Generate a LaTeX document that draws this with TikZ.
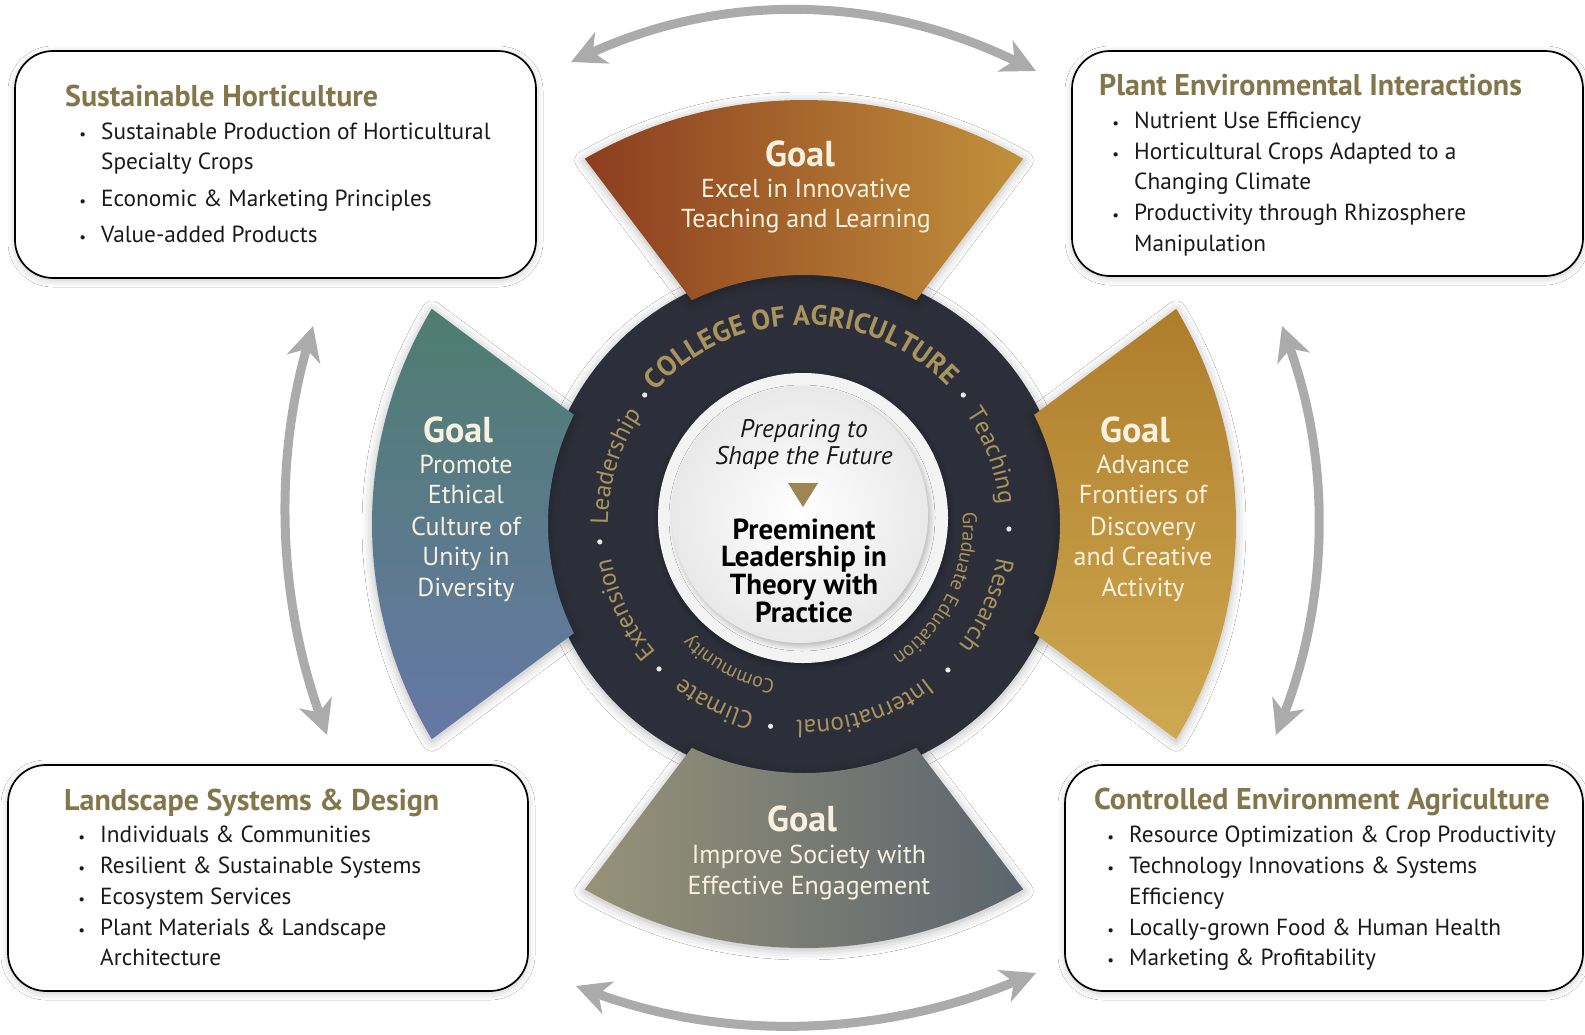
\documentclass[tikz,border=0pt]{standalone}
\usepackage{fontspec}
\setmainfont{PT Sans}
\usetikzlibrary{arrows.meta,decorations.text,shadows.blur}
\definecolor{ringdark}{HTML}{2C2E39}
\definecolor{ringtan}{HTML}{AA945E}
\definecolor{titlecol}{HTML}{84754B}
\definecolor{cream}{HTML}{F8F1E0}
\definecolor{arrowgray}{HTML}{ABABAB}
\definecolor{topL}{HTML}{8C3D1E}
\definecolor{topR}{HTML}{C2913C}
\definecolor{leftT}{HTML}{4E7D6F}
\definecolor{leftB}{HTML}{6678A6}
\definecolor{rightT}{HTML}{AE7D2B}
\definecolor{rightB}{HTML}{CFA952}
\definecolor{botL}{HTML}{979379}
\definecolor{botR}{HTML}{5B646E}
\definecolor{trigold}{HTML}{9D8652}
\definecolor{bodytext}{HTML}{1A1A1A}
\definecolor{ctrout}{HTML}{F3F3F3}
\definecolor{ctrin}{HTML}{E9E9E9}
\newcommand\fs[1]{\fontsize{#1}{#1}\selectfont}
\newcommand\bul{\llap{{\fs{15}\textbullet}\hspace{15pt}}}
\newcommand\ringfont{\fs{25}}
\newcommand\ringsmall{\fs{20}}
\newcommand\ringbold{\bfseries\fs{28}}
\begin{document}
\begin{tikzpicture}[x=1pt,y=-1pt,
  frame/.style={draw=black, line width=1.7pt, rounded corners=38pt, fill=white,
    inner sep=0pt, outer sep=0pt, anchor=north west,
    blur shadow={shadow blur radius=7pt, shadow xshift=0pt, shadow yshift=-2pt, shadow opacity=22}},
  boxtitle/.style={font=\bfseries\fs{30}, text=titlecol, inner sep=0pt, anchor=base west},
  itemtext/.style={font=\fs{23.3}, text=bodytext, inner sep=0pt, anchor=base west},
  goalhead/.style={font=\bfseries\fs{36}, text=cream, inner sep=0pt, anchor=base},
  goaltext/.style={font=\fs{26}, text=cream, inner sep=0pt, anchor=base},
  centeri/.style={font=\itshape\fs{25.5}, text=bodytext, inner sep=0pt, anchor=base},
  centerb/.style={font=\bfseries\fs{29}, text=black, inner sep=0pt, anchor=base},
  softshadow/.style={blur shadow={shadow blur radius=10pt, shadow xshift=0pt, shadow yshift=-2pt, shadow opacity=30}},
  ringword/.style={decorate, decoration={text along path, text align=center, text color=ringtan, text={|\ringfont|#1}}},
  ringwordsmall/.style={decorate, decoration={text along path, text align=center, text color=ringtan, text={|\ringsmall|#1}}},
  ringtitle/.style={decorate, decoration={text along path, text align=center, text color=ringtan, text={|\ringbold|#1}}},
  ringdot/.style={fill=white!85!gray},
  garrow/.style={draw=arrowgray, line width=9pt, {Stealth[length=34pt,width=34pt,inset=10pt]}-{Stealth[length=34pt,width=34pt,inset=10pt]}},
]
\fill[white] (0,0) rectangle (1585,1034);
\useasboundingbox (0,0) rectangle (1585,1034);

% ---------- arrows ----------
\coordinate (ta1) at (571,62);   \coordinate (ta2) at (1036,71);
\coordinate (ba1) at (576,986);  \coordinate (ba2) at (1036,973);
\coordinate (la1) at (313,326);  \coordinate (la2) at (327,735);
\coordinate (ra1) at (1282,326); \coordinate (ra2) at (1276,735);
\draw[garrow] (ta1) .. controls (725,-8) and (880,-5) .. (ta2);
\draw[garrow] (ba1) .. controls (727,1041) and (880,1037) .. (ba2);
\draw[garrow] (la1) .. controls (274,462) and (278,598) .. (la2);
\draw[garrow] (ra1) .. controls (1331,462) and (1329,598) .. (ra2);

% ---------- boxes ----------
\node[frame, minimum width=521pt, minimum height=227pt] (box1) at (15,51) {};
\node[frame, minimum width=511pt, minimum height=225pt] (box2) at (1072,51) {};
\node[frame, minimum width=520pt, minimum height=226pt] (box3) at (8,765) {};
\node[frame, minimum width=518pt, minimum height=226pt] (box4) at (1065,765) {};

\node[boxtitle] (b1t) at (65,106) {Sustainable Horticulture};
\node[itemtext] (b1a) at (101,139) {\bul Sustainable Production of Horticultural};
\node[itemtext] (b1b) at (101,169) {Specialty Crops};
\node[itemtext] (b1c) at (101,206) {\bul Economic \& Marketing Principles};
\node[itemtext] (b1d) at (101,242) {\bul Value-added Products};

\node[boxtitle] (b2t) at (1099,95) {Plant Environmental Interactions};
\node[itemtext] (b2a) at (1134,128) {\bul Nutrient Use Efficiency};
\node[itemtext] (b2b) at (1134,159) {\bul Horticultural Crops Adapted to a};
\node[itemtext] (b2c) at (1134,189) {Changing Climate};
\node[itemtext] (b2d) at (1134,220) {\bul Productivity through Rhizosphere};
\node[itemtext] (b2e) at (1134,251) {Manipulation};

\node[boxtitle] (b3t) at (64,810) {Landscape Systems \& Design};
\node[itemtext] (b3a) at (100,842) {\bul Individuals \& Communities};
\node[itemtext] (b3b) at (100,873) {\bul Resilient \& Sustainable Systems};
\node[itemtext] (b3c) at (100,904) {\bul Ecosystem Services};
\node[itemtext] (b3d) at (100,935) {\bul Plant Materials \& Landscape};
\node[itemtext] (b3e) at (100,965) {Architecture};

\node[boxtitle] (b4t) at (1094,809) {Controlled Environment Agriculture};
\node[itemtext] (b4a) at (1129,842) {\bul Resource Optimization \& Crop Productivity};
\node[itemtext] (b4b) at (1129,873) {\bul Technology Innovations \& Systems};
\node[itemtext] (b4c) at (1129,904) {Efficiency};
\node[itemtext] (b4d) at (1129,935) {\bul Locally-grown Food \& Human Health};
\node[itemtext] (b4e) at (1129,965) {\bul Marketing \& Profitability};

% ---------- ring and wedges ----------
\begin{scope}[shift={(804,524)}]
  \fill[ringdark, softshadow] (0,0) ellipse[x radius=262, y radius=258];
  % top
  \path[softshadow, left color=topL, right color=topR]
    (-120.5:432 and 424) arc[start angle=-120.5, end angle=-59.5, x radius=432, y radius=424]
    -- (-64:256 and 249) arc[start angle=-64, end angle=-116, x radius=256, y radius=249] -- cycle;
  % right
  \path[softshadow, top color=rightT, bottom color=rightB]
    (-30.5:432 and 424) arc[start angle=-30.5, end angle=30.5, x radius=432, y radius=424]
    -- (26:256 and 249) arc[start angle=26, end angle=-26, x radius=256, y radius=249] -- cycle;
  % bottom
  \path[softshadow, left color=botL, right color=botR]
    (59.5:432 and 424) arc[start angle=59.5, end angle=120.5, x radius=432, y radius=424]
    -- (116:256 and 249) arc[start angle=116, end angle=64, x radius=256, y radius=249] -- cycle;
  % left
  \path[softshadow, top color=leftT, bottom color=leftB]
    (149.5:432 and 424) arc[start angle=149.5, end angle=210.5, x radius=432, y radius=424]
    -- (206:256 and 249) arc[start angle=206, end angle=154, x radius=256, y radius=249] -- cycle;

  % ring words (clockwise, tops outward)
  \path[ringtitle={COLLEGE OF AGRICULTURE}] (-151:199) arc[start angle=-151, end angle=-31, radius=199];
  \path[ringword=Teaching] (-70:196) arc[start angle=-70, end angle=30, radius=196];
  \path[ringword=Research] (-26:196) arc[start angle=-26, end angle=74, radius=196];
  \path[ringword=International] (22:196) arc[start angle=22, end angle=122, radius=196];
  \path[ringword=Climate] (66.5:196) arc[start angle=66.5, end angle=166.5, radius=196];
  \path[ringword=Extension] (104.5:196) arc[start angle=104.5, end angle=204.5, radius=196];
  \path[ringword=Leadership] (147:196) arc[start angle=147, end angle=247, radius=196];
  \path[ringwordsmall={Graduate Education}] (-34:159) arc[start angle=-34, end angle=86, radius=159];
  \path[ringwordsmall=Community] (68:159) arc[start angle=68, end angle=168, radius=159];
  \foreach \a in {-39,1.4,45.4,99.4,135,175,219}
    \fill[ringdot] (\a:205) circle[radius=2.6];
\end{scope}

% ---------- centre ----------
\fill[ctrout, blur shadow={shadow blur radius=6pt, shadow xshift=1pt, shadow yshift=-2pt, shadow opacity=35}] (803,518) circle[radius=145];
\path[inner color=white, outer color=ctrin, blur shadow={shadow blur radius=5pt, shadow xshift=2pt, shadow yshift=-3pt, shadow opacity=25}] (800,515) circle[radius=128];
\fill[trigold] (788,483) -- (818,483) -- (803,507) -- cycle;
\node[centeri] (c1) at (804,437) {Preparing to};
\node[centeri] (c2) at (804,464) {Shape the Future};
\node[centerb] (c3) at (804,539) {Preeminent};
\node[centerb] (c4) at (804,566) {Leadership in};
\node[centerb] (c5) at (804,594) {Theory with};
\node[centerb] (c6) at (804,622) {Practice};

% ---------- goal texts ----------
\node[goalhead] (g1h) at (800,166) {Goal};
\node[goaltext] (g1a) at (806,197) {Excel in Innovative};
\node[goaltext] (g1b) at (806,227) {Teaching and Learning};

\node[goalhead] (g2h) at (458,442) {Goal};
\node[goaltext] (g2a) at (466,473) {Promote};
\node[goaltext] (g2b) at (466,503) {Ethical};
\node[goaltext] (g2c) at (466,535) {Culture of};
\node[goaltext] (g2d) at (466,565) {Unity in};
\node[goaltext] (g2e) at (466,596) {Diversity};

\node[goalhead] (g3h) at (1135,442) {Goal};
\node[goaltext] (g3a) at (1143,473) {Advance};
\node[goaltext] (g3b) at (1143,503) {Frontiers of};
\node[goaltext] (g3c) at (1143,535) {Discovery};
\node[goaltext] (g3d) at (1143,565) {and Creative};
\node[goaltext] (g3e) at (1143,596) {Activity};

\node[goalhead] (g4h) at (802,831) {Goal};
\node[goaltext] (g4a) at (809,863) {Improve Society with};
\node[goaltext] (g4b) at (809,894) {Effective Engagement};
\end{tikzpicture}
\end{document}
